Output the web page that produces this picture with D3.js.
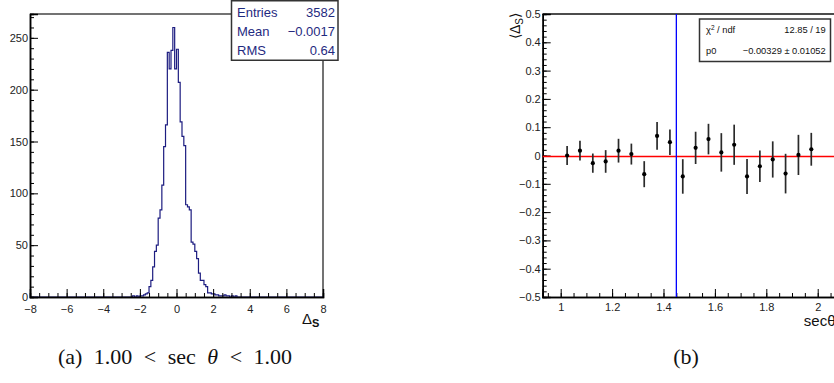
<!DOCTYPE html>
<html><head><meta charset="utf-8">
<script src="https://cdn.jsdelivr.net/npm/d3@7"></script>
<style>
body{margin:0;background:#fff}
svg{display:block}
text{font-family:"Liberation Sans",Arial,Helvetica,sans-serif}
.cap{font-family:"Liberation Serif","DejaVu Serif",serif}
</style>
</head><body>
<svg id="c" width="834" height="383"></svg>
<script>
// ---------------- data ----------------
// Left: histogram of Delta_S (bin width 0.1 on [-8, 8])
const histRange = [-8, 8];
const histBinWidth = 0.1;
const histFirstBinLow = -2.4;
const histCounts = [1,0,1,0,1,1,2,3,4,10,
                    16,29,44,50,76,84,108,145,166,236,
                    220,238,260,220,239,207,169,155,146,89,
                    87,84,53,51,44,37,23,16,16,12,
                    10,4,4,3,3,2,2,1,1,1,
                    2,1,1,0,1,0,1];
const histXTicks = [-8,-6,-4,-2,0,2,4,6,8];
const histYTicks = [0,50,100,150,200,250];
const statLabels = ["Entries","Mean","RMS"];
const statValues = ["3582","\u22120.0017","0.64"];

// Right: <Delta_S> vs sec(theta)
const secTheta = [1.025,1.075,1.125,1.175,1.225,1.275,1.325,1.375,1.425,1.475,
                  1.525,1.575,1.625,1.675,1.725,1.775,1.825,1.875,1.925,1.975];
const meanDs = [0.000,0.017,-0.027,-0.021,0.017,0.005,-0.066,0.069,0.047,-0.074,
                0.027,0.058,0.011,0.038,-0.074,-0.038,-0.014,-0.064,0.002,0.022];
const errDs  = [0.034,0.035,0.034,0.040,0.042,0.037,0.046,0.049,0.045,0.061,
                0.057,0.054,0.068,0.071,0.062,0.056,0.064,0.070,0.071,0.058];
const secXTicks = [1,1.2,1.4,1.6,1.8,2];
const dsYTicks = [-0.5,-0.4,-0.3,-0.2,-0.1,0,0.1,0.2,0.3,0.4,0.5];
const fitP0 = -0.00329;
const cutValue = 1.45;
const fitLabels = ["ndf","p0"];
const fitValues = ["12.85 / 19","\u22120.00329 \u00b1 0.01052"];

const captions = ["(a) 1.00 < sec \u03b8 < 1.00", "(b)"];

// ---------------- drawing ----------------
const svg = d3.select("#c");

// ===== Left panel =====
const xL = d3.scaleLinear().domain(histRange).range([30, 323]);
const yL = d3.scaleLinear().domain([0, 273]).range([297, 14]);
const gL = svg.append("g");

// frame top/right
gL.append("line").attr("x1",30).attr("x2",323).attr("y1",14).attr("y2",14).attr("stroke","#444").attr("stroke-width",1.5);
gL.append("line").attr("x1",323).attr("x2",323).attr("y1",14).attr("y2",297).attr("stroke","#444").attr("stroke-width",1.5);

// histogram step line
const pts = [[histRange[0],0]];
histCounts.forEach((c,i)=>{ pts.push([histFirstBinLow + i*histBinWidth, c]); });
pts.push([histFirstBinLow + histCounts.length*histBinWidth, 0]);
pts.push([histRange[1],0]);
gL.append("path")
  .attr("d", d3.line().x(d=>xL(d[0])).y(d=>yL(d[1])).curve(d3.curveStepAfter)(pts))
  .attr("fill","none").attr("stroke","#1c1c80").attr("stroke-width",1.2);

// minor ticks
const axMinXL = d3.axisBottom(xL).tickValues(d3.range(-8, 8.001, 0.5)).tickSize(-4).tickFormat("");
gL.append("g").attr("transform","translate(0,297)").call(axMinXL);
const axMinYL = d3.axisLeft(yL).tickValues(d3.range(0, 271, 10)).tickSize(-4).tickFormat("");
gL.append("g").attr("transform","translate(30,0)").call(axMinYL);
// major
const axXL = d3.axisBottom(xL).tickValues(histXTicks).tickSize(-8).tickPadding(8).tickFormat(d3.format("d"));
gL.append("g").attr("class","ax").attr("transform","translate(0,297)").call(axXL);
const axYL = d3.axisLeft(yL).tickValues(histYTicks).tickSize(-8).tickPadding(2).tickFormat(d3.format("d"));
gL.append("g").attr("class","ax").attr("transform","translate(30,0)").call(axYL);

// x title
const tL = gL.append("text").attr("x",302).attr("y",324).attr("font-size",15).attr("fill","#111");
tL.append("tspan").text("\u0394");
tL.append("tspan").attr("dy",3).attr("font-size",11).attr("font-weight","bold").text("S");

// stats box
gL.append("rect").attr("x",231.5).attr("y",0.75).attr("width",106.5).attr("height",59.5)
  .attr("fill","#fff").attr("stroke","#333").attr("stroke-width",1.5);
statLabels.forEach((s,i)=>{
  const y = 17 + i*19.2;
  gL.append("text").attr("x",237).attr("y",y).attr("font-size",13).attr("fill","#1f2a7f").text(s);
  gL.append("text").attr("x",335).attr("y",y).attr("font-size",13).attr("fill","#1f2a7f").attr("text-anchor","end").text(statValues[i]);
});

// ===== Right panel =====
const xR = d3.scaleLinear().domain([0.93, 2.07]).range([542.7, 835.7]);
const yR = d3.scaleLinear().domain([-0.5, 0.5]).range([297, 14]);
const gR = svg.append("g");

gR.append("line").attr("x1",542.7).attr("x2",836).attr("y1",14).attr("y2",14).attr("stroke","#111").attr("stroke-width",1.5);

const axMinXR = d3.axisBottom(xR).tickValues(d3.range(0.95, 2.06, 0.05)).tickSize(-4).tickFormat("");
gR.append("g").attr("transform","translate(0,297)").call(axMinXR);
const axMinYR = d3.axisLeft(yR).tickValues(d3.range(-0.5, 0.501, 0.02)).tickSize(-4).tickFormat("");
gR.append("g").attr("transform","translate(542.7,0)").call(axMinYR);
const axXR = d3.axisBottom(xR).tickValues(secXTicks).tickSize(-8).tickPadding(6).tickFormat(d3.format(""));
gR.append("g").attr("class","ax").attr("transform","translate(0,297)").call(axXR);
const axYR = d3.axisLeft(yR).tickValues(dsYTicks).tickSize(-8).tickPadding(2).tickFormat(d3.format(""));
gR.append("g").attr("class","ax").attr("transform","translate(542.7,0)").call(axYR);

// fit line and cut line
gR.append("line").attr("x1",xR(0.93)).attr("x2",xR(2.07)).attr("y1",yR(fitP0)).attr("y2",yR(fitP0))
  .attr("stroke","#ff0000").attr("stroke-width",1.5);
gR.append("line").attr("x1",xR(cutValue)).attr("x2",xR(cutValue)).attr("y1",yR(0.5)).attr("y2",yR(-0.5))
  .attr("stroke","#0000ff").attr("stroke-width",1.3);

// error bars + points
secTheta.forEach((x,i)=>{
  gR.append("line").attr("x1",xR(x)).attr("x2",xR(x))
    .attr("y1",yR(meanDs[i]+errDs[i])).attr("y2",yR(meanDs[i]-errDs[i]))
    .attr("stroke","#2a2a2a").attr("stroke-width",1.7);
  gR.append("circle").attr("cx",xR(x)).attr("cy",yR(meanDs[i])).attr("r",2.1).attr("fill","#000");
});

// fit box
gR.append("rect").attr("x",699.5).attr("y",19).attr("width",131).attr("height",42.5)
  .attr("fill","#fff").attr("stroke","#333").attr("stroke-width",1.5);
const f1 = gR.append("text").attr("x",706).attr("y",33.4).attr("font-size",9.3).attr("fill","#111");
f1.append("tspan").text("\u03c7");
f1.append("tspan").attr("dy",-3.5).attr("font-size",6.5).text("2");
f1.append("tspan").attr("dy",3.5).text(" / " + fitLabels[0]);
gR.append("text").attr("x",706).attr("y",54).attr("font-size",9.3).attr("fill","#111").text(fitLabels[1]);
fitValues.forEach((v,i)=>{
  gR.append("text").attr("x",825.7).attr("y",i?54:33.4).attr("font-size",9.3).attr("fill","#111")
    .attr("text-anchor","end").text(v);
});

// axis titles
gR.append("text").attr("x",835.5).attr("y",326).attr("font-size",15).attr("fill","#111")
  .attr("text-anchor","end").text("sec\u03b8");
const yt = gR.append("text").attr("transform","translate(520,13) rotate(-90)")
  .attr("text-anchor","end").attr("font-size",14).attr("fill","#111");
yt.append("tspan").text("\u27e8\u0394");
yt.append("tspan").attr("dy",3).attr("font-size",10).text("S");
yt.append("tspan").attr("dy",-3).text("\u27e9");

// style axes
svg.selectAll(".domain").attr("stroke","#000").attr("stroke-width",1.5);
svg.selectAll(".tick line").attr("stroke","#000").attr("stroke-width",1);
svg.selectAll(".ax text").attr("font-size",11).attr("fill","#222")
  .attr("font-family","'Liberation Sans',Arial,sans-serif");

// captions (theta in italics)
const capA = svg.append("text").attr("class","cap").attr("x",175).attr("y",364).attr("text-anchor","middle")
  .attr("font-size",22).attr("word-spacing",6).attr("fill","#111");
captions[0].split("\u03b8").forEach((part,i)=>{
  if (i > 0) capA.append("tspan").attr("font-style","italic").text("\u03b8");
  capA.append("tspan").text(part);
});
svg.append("text").attr("class","cap").attr("x",686).attr("y",364).attr("text-anchor","middle")
  .attr("font-size",22).attr("fill","#111").text(captions[1]);
</script>
</body></html>
